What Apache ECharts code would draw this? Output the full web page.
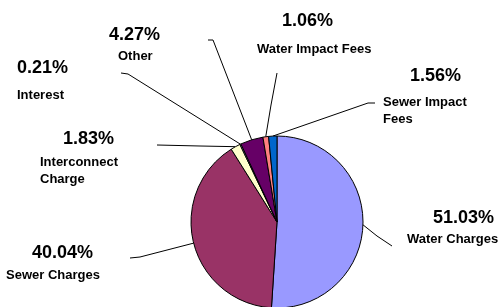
<!DOCTYPE html>
<html>
<head>
<meta charset="utf-8">
<script src="https://cdn.jsdelivr.net/npm/echarts@6/dist/echarts.min.js"></script>
<style>
  html, body { margin: 0; padding: 0; background: #fff; }
  #main { width: 500px; height: 307px; }
</style>
</head>
<body>
<div id="main"></div>
<script>
// revenue share by source, clockwise from 12 o'clock
var sources = ['Water Charges', 'Sewer Charges', 'Interconnect\nCharge', 'Interest', 'Other', 'Water Impact Fees', 'Sewer Impact\nFees'];
var shares = [51.03, 40.04, 1.83, 0.21, 4.27, 1.06, 1.56];
var colors = ['#9999FF', '#993366', '#FFFFCC', '#CCFFFF', '#660066', '#FF8080', '#0066CC'];

// where each label sits (left edge of pct / name, vertical centers) and its leader line
var spots = [
  {pctX: 433, nameX: 407, pctY: 218, nameY: 239, bend: [377, 236], end: [392, 246]},
  {pctX: 32,  nameX: 6,   pctY: 253, nameY: 275, bend: [140, 257], end: [130, 258]},
  {pctX: 63,  nameX: 40,  pctY: 139, nameY: 162, bend: [200, 146], end: [157, 145]},
  {pctX: 17,  nameX: 17,  pctY: 68,  nameY: 95,  bend: [128, 74],  end: [121, 73]},
  {pctX: 109, nameX: 118, pctY: 35,  nameY: 56,  bend: [213, 40],  end: [208, 40]},
  {pctX: 282, nameX: 257, pctY: 21,  nameY: 49,  bend: [271, 105], end: [277, 73]},
  {pctX: 410, nameX: 383, pctY: 76,  nameY: 102, bend: [368, 103], end: [375, 103]}
];

var chart = echarts.init(document.getElementById('main'));

var pieData = shares.map(function (v, i) {
  var s = spots[i];
  var left = Math.min(s.pctX, s.nameX);
  return {
    value: v,
    name: sources[i],
    itemStyle: {color: colors[i]},
    label: {
      rich: {
        p: {lineHeight: 2 * (s.nameY - s.pctY - 8.5), padding: [0, 0, 0, s.pctX - left]},
        n: {padding: [0, 0, 0, s.nameX - left]}
      }
    }
  };
});

chart.setOption({
  animation: false,
  series: [{
    type: 'pie',
    center: [277, 222],
    radius: 86,
    startAngle: 90,
    clockwise: true,
    data: pieData,
    itemStyle: {borderColor: '#000', borderWidth: 1},
    label: {
      show: true,
      position: 'outside',
      overflow: 'none',
      fontFamily: 'Liberation Sans, Arial, sans-serif',
      color: '#000',
      formatter: function (p) {
        var lines = p.name.split('\n').map(function (t) { return '{n|' + t + '}'; });
        return '{p|' + p.value.toFixed(2) + '%}\n' + lines.join('\n');
      },
      rich: {
        p: {fontSize: 18, fontWeight: 'bold', color: '#000', fontFamily: 'Liberation Sans, Arial, sans-serif'},
        n: {fontSize: 13, fontWeight: 'bold', color: '#000', lineHeight: 17, fontFamily: 'Liberation Sans, Arial, sans-serif'}
      }
    },
    labelLine: {show: true, lineStyle: {color: '#000', width: 1}},
    labelLayout: function (params) {
      var s = spots[params.dataIndex];
      var left = Math.min(s.pctX, s.nameX);
      var lh = 2 * (s.nameY - s.pctY - 8.5);
      var start = params.labelLinePoints ? params.labelLinePoints[0] : s.bend;
      return {
        x: left,
        y: s.pctY - lh / 2,
        align: 'left',
        verticalAlign: 'top',
        width: 120,
        labelLinePoints: [start, s.bend, s.end]
      };
    },
    emphasis: {disabled: true}
  }]
});
</script>
</body>
</html>
